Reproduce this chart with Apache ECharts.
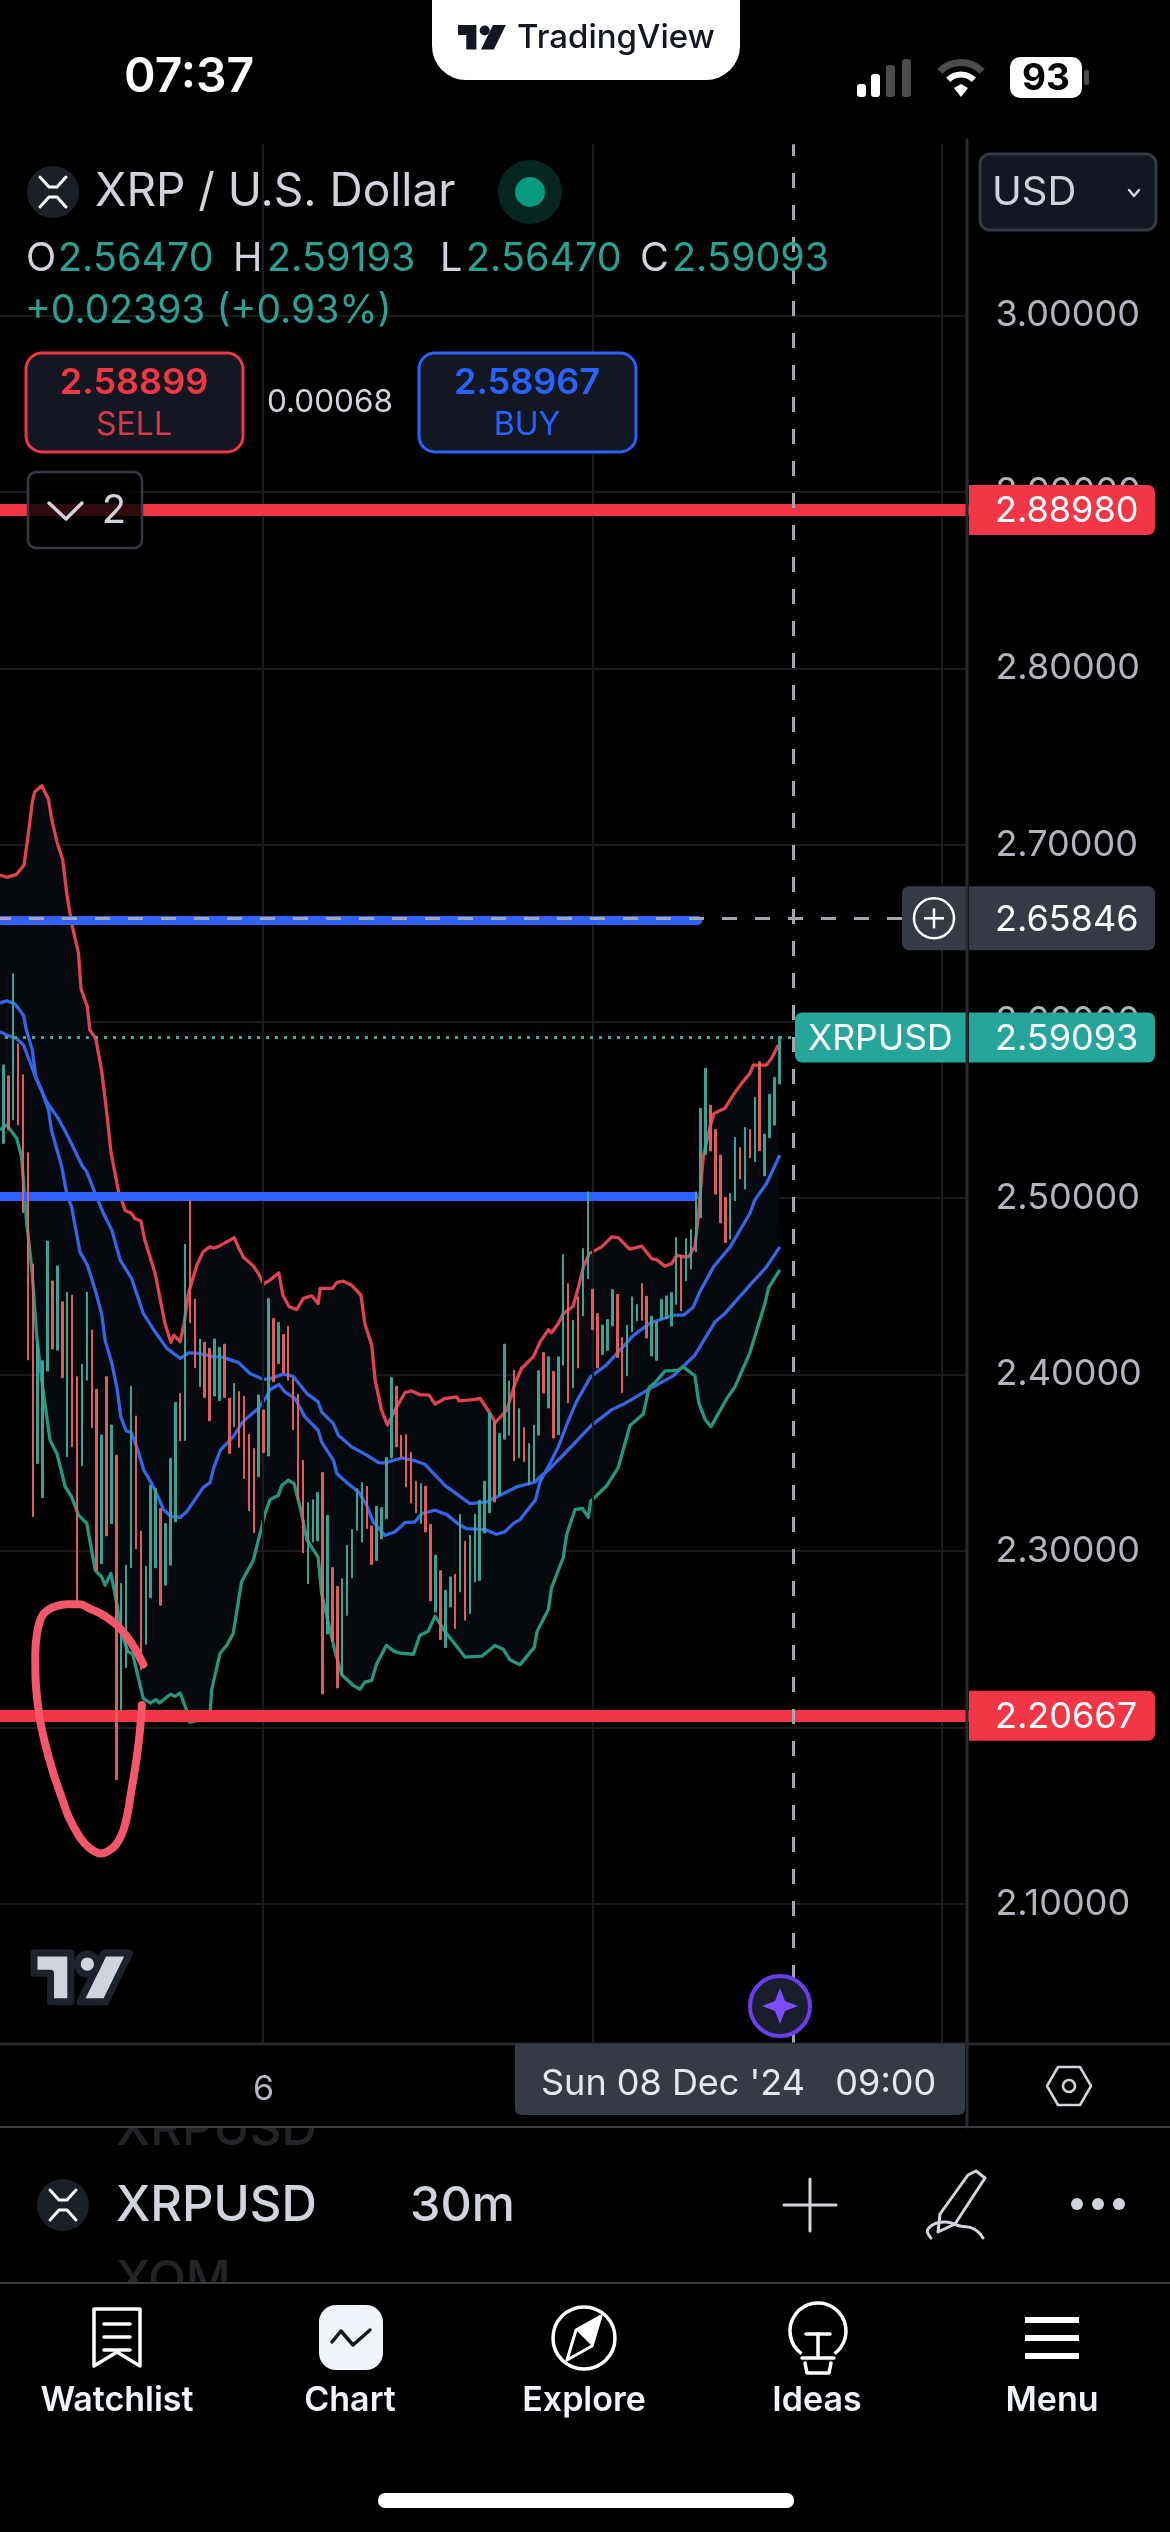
<!DOCTYPE html>
<html>
<head>
<meta charset="utf-8">
<title>XRPUSD</title>
<script src="https://cdn.jsdelivr.net/npm/echarts@6/dist/echarts.min.js"></script>
<style>
html, body { margin: 0; padding: 0; background: #000; }
#main { width: 1170px; height: 2532px; }
</style>
</head>
<body>
<div id="main"></div>
<script>
// price axis
var priceTicks = [2.1, 2.2, 2.3, 2.4, 2.5, 2.6, 2.7, 2.8, 2.9, 3.0];
var slotCount = 198;
var timeLabelSlot = 54;
var timeLabelText = '6';

// candles, first one sits in slot 1. up: 1 teal, 0 red
var candleHigh = [
  2.5754,2.5692,2.6270,2.5873,2.5698,2.5257,2.4626,2.4172,2.4078,2.4756,2.4530,2.4615,2.4412,2.4467,2.4450,2.3987,2.4059,2.4467,2.4252,2.3915,
  2.3657,2.3987,2.3714,2.3543,2.2816,2.2920,2.3934,2.3765,2.3113,2.2914,2.3373,2.3354,2.3241,2.3156,2.3525,2.3842,2.3893,2.4739,2.4985,2.4428,
  2.4201,2.4182,2.4148,2.4201,2.4154,2.4172,2.3865,2.3949,2.3903,2.3878,2.3661,2.3581,2.3884,2.3799,2.4431,2.4317,2.4295,2.4227,2.4274,2.3977,
  2.3888,2.3514,2.3274,2.3291,2.3331,2.3444,2.3202,2.2906,2.2800,2.2843,2.3032,2.3121,2.3354,2.3388,2.3367,2.3142,2.3253,2.3246,2.3529,2.3983,
  2.3934,2.3656,2.3660,2.3558,2.3395,2.3382,2.3367,2.3151,2.2976,2.2888,2.2778,2.2853,2.2868,2.3208,2.3055,2.3089,2.3208,2.3287,2.3395,2.3783,
  2.3732,2.3665,2.4172,2.3962,2.4024,2.3807,2.3699,2.3609,2.3713,2.4021,2.4124,2.4100,2.4018,2.4100,2.4680,2.4515,2.4307,2.4440,2.4714,2.5035,
  2.4483,2.4345,2.4279,2.4311,2.4481,2.4453,2.4209,2.4279,2.4440,2.4396,2.4515,2.4443,2.4330,2.4298,2.4426,2.4445,2.4464,2.4776,2.4676,2.4770,
  2.4822,2.5035,2.5508,2.5734,2.5526,2.5388,2.5243,2.5003,2.5026,2.5343,2.5286,2.5400,2.5388,2.5570,2.5772,2.5362,2.5587,2.5683,2.5914
];
var candleLow = [
  2.5310,2.5386,2.5443,2.5414,2.4917,2.4082,2.3194,2.3496,2.3303,2.4019,2.4144,2.4138,2.3982,2.3534,2.3591,2.2712,2.3483,2.3968,2.3698,2.2891,
  2.2929,2.3086,2.3156,2.1704,2.2098,2.2340,2.2905,2.3012,2.2328,2.2472,2.2735,2.2905,2.2693,2.2806,2.2920,2.3165,2.3623,2.3625,2.4293,2.4038,
  2.3931,2.3870,2.3738,2.3878,2.3852,2.3870,2.3553,2.3704,2.3587,2.3411,2.3228,2.3103,2.3421,2.3557,2.3538,2.3958,2.4062,2.4009,2.3968,2.3688,
  2.3287,2.2989,2.2815,2.3051,2.3057,2.2190,2.2530,2.2490,2.2224,2.2292,2.2635,2.2847,2.3117,2.3051,2.3127,2.2923,2.2947,2.3070,2.3183,2.3527,
  2.3590,2.3529,2.3363,2.3272,2.3216,2.3155,2.3108,2.2717,2.2654,2.2498,2.2453,2.2683,2.2560,2.2768,2.2607,2.2645,2.2824,2.2834,2.3102,2.3216,
  2.3278,2.3316,2.3633,2.3656,2.3510,2.3529,2.3505,2.3376,2.3395,2.3656,2.3895,2.3810,2.3640,2.3659,2.4052,2.3839,2.3924,2.4037,2.4332,2.4544,
  2.4254,2.4037,2.4113,2.4137,2.4275,2.4096,2.3897,2.3992,2.4241,2.4304,2.4307,2.4207,2.4105,2.4081,2.4311,2.4317,2.4275,2.4398,2.4360,2.4530,
  2.4597,2.4695,2.4888,2.5247,2.5266,2.5022,2.4859,2.4748,2.4767,2.4984,2.5107,2.5050,2.5228,2.5205,2.5268,2.5126,2.5341,2.5413,2.5646
];
var candleUp = [
  1,0,1,0,0,0,0,1,1,1,0,1,0,1,0,0,1,1,0,0,
  1,0,1,0,1,1,1,0,0,1,1,1,0,1,1,1,0,1,0,0,
  1,0,0,1,1,0,0,1,0,0,0,0,1,0,1,0,1,0,0,0,
  0,0,1,1,1,0,1,0,0,1,1,1,1,1,0,0,1,1,1,1,
  0,0,0,0,0,1,0,0,1,0,1,1,0,1,0,1,1,1,1,1,
  0,1,1,1,0,1,0,1,1,1,0,1,0,1,1,0,1,0,1,1,
  0,0,1,1,1,0,0,1,1,1,0,0,1,1,1,1,1,1,0,1,
  1,1,1,1,0,0,0,0,1,1,0,1,0,1,0,1,1,1,1
];

// indicator lines, [slot, price]
var upperBand = [
  [0.3,2.6830],[1.7,2.6817],[3.7,2.6834],[5.2,2.6887],[6.1,2.7066],[6.9,2.7246],[7.4,2.7302],[8.8,2.7335],[10.2,2.7259],[10.8,2.7151],
  [11.9,2.7019],[13.1,2.6915],[13.9,2.6726],[14.9,2.6556],[16.3,2.6386],[16.8,2.6187],[18.1,2.6083],[18.6,2.5951],[19.8,2.5904],[21.0,2.5724],
  [22.0,2.5497],[22.9,2.5261],[24.4,2.5044],[25.8,2.4930],[27.1,2.4912],[27.8,2.4883],[29.0,2.4870],[29.8,2.4762],[31.9,2.4573],[33.9,2.4290],
  [35.1,2.4182],[35.7,2.4223],[37.0,2.4186],[37.8,2.4290],[38.7,2.4460],[40.4,2.4620],[41.7,2.4696],[43.1,2.4724],[43.8,2.4715],[45.1,2.4730],
  [48.0,2.4775],[48.8,2.4724],[49.9,2.4664],[51.9,2.4615],[52.9,2.4573],[54.0,2.4513],[55.3,2.4535],[57.1,2.4576],[57.9,2.4450],[59.2,2.4384],
  [60.7,2.4368],[62.1,2.4431],[63.8,2.4446],[65.1,2.4402],[65.5,2.4488],[68.0,2.4488],[68.9,2.4522],[70.2,2.4529],[71.9,2.4506],[73.8,2.4450],
  [74.6,2.4289],[76.0,2.4166],[76.7,2.3968],[78.0,2.3798],[79.2,2.3713],[80.7,2.3798],[82.8,2.3898],[84.1,2.3907],[85.8,2.3886],[87.7,2.3883],
  [88.9,2.3832],[90.9,2.3864],[93.3,2.3873],[93.8,2.3851],[96.7,2.3858],[98.1,2.3864],[100.1,2.3779],[101.2,2.3728],[103.5,2.3798],[105.2,2.3949],
  [106.5,2.4034],[108.9,2.4100],[110.3,2.4185],[112.0,2.4254],[112.6,2.4236],[114.0,2.4289],[115.0,2.4345],[117.0,2.4387],[118.1,2.4496],[119.1,2.4610],
  [120.3,2.4685],[122.8,2.4723],[124.9,2.4780],[126.2,2.4776],[128.5,2.4710],[131.0,2.4727],[133.0,2.4657],[134.0,2.4651],[135.7,2.4614],[137.1,2.4629],
  [138.1,2.4676],[139.5,2.4667],[140.5,2.4667],[141.8,2.4723],[142.5,2.4893],[143.5,2.5233],[144.9,2.5404],[145.7,2.5479],[147.9,2.5508],[149.6,2.5583],
  [151.3,2.5649],[153.0,2.5706],[153.7,2.5753],[156.4,2.5753],[157.4,2.5791],[158.8,2.5867]
];
var fastLine = [
  [0.3,2.6106],[1.7,2.6117],[3.4,2.6099],[5.1,2.6036],[5.7,2.5951],[6.9,2.5838],[7.6,2.5686],[8.8,2.5611],[10.2,2.5498],[10.8,2.5384],
  [12.9,2.5176],[13.9,2.5025],[14.9,2.4949],[16.6,2.4695],[18.1,2.4620],[19.7,2.4479],[21.0,2.4346],[21.7,2.4195],[23.1,2.4063],[24.2,2.3912],
  [24.9,2.3761],[26.0,2.3681],[27.1,2.3670],[28.5,2.3562],[29.6,2.3458],[31.2,2.3383],[32.8,2.3288],[33.6,2.3235],[35.0,2.3198],[37.0,2.3190],
  [38.3,2.3222],[40.4,2.3307],[41.7,2.3360],[43.1,2.3387],[43.8,2.3468],[45.2,2.3572],[46.5,2.3610],[47.8,2.3647],[49.5,2.3723],[50.9,2.3761],
  [52.9,2.3808],[54.6,2.3874],[55.3,2.3915],[57.1,2.3943],[58.3,2.3902],[60.4,2.3864],[62.4,2.3760],[65.1,2.3684],[65.8,2.3618],[68.2,2.3514],
  [68.9,2.3439],[70.9,2.3388],[73.3,2.3335],[75.0,2.3259],[76.3,2.3165],[78.7,2.3089],[80.7,2.3108],[82.8,2.3161],[84.8,2.3165],[86.2,2.3212],
  [88.9,2.3231],[91.3,2.3206],[94.0,2.3146],[95.3,2.3127],[99.1,2.3121],[101.4,2.3095],[103.1,2.3108],[104.8,2.3155],[106.2,2.3178],[109.3,2.3287],
  [110.3,2.3392],[112.3,2.3496],[114.0,2.3591],[115.7,2.3714],[117.7,2.3846],[120.6,2.3988],[123.8,2.4054],[126.5,2.4137],[129.3,2.4222],[132.7,2.4292],
  [137.4,2.4336],[139.5,2.4336],[141.5,2.4383],[142.8,2.4468],[145.6,2.4610],[147.3,2.4667],[149.0,2.4723],[151.0,2.4818],[153.0,2.4912],[154.0,2.4988],
  [156.4,2.5082],[159.1,2.5243]
];
var slowLine = [
  [0.3,2.5942],[1.7,2.5923],[3.7,2.5904],[5.1,2.5866],[6.4,2.5772],[7.8,2.5668],[9.8,2.5545],[12.2,2.5450],[14.2,2.5346],[17.0,2.5186],
  [18.0,2.5148],[19.7,2.5025],[21.4,2.4912],[23.1,2.4817],[24.8,2.4648],[27.1,2.4545],[29.5,2.4346],[31.9,2.4242],[34.3,2.4148],[37.0,2.4091],
  [38.7,2.4123],[40.7,2.4120],[43.8,2.4101],[45.8,2.4097],[48.9,2.4067],[51.2,2.4006],[54.0,2.3972],[55.3,2.3977],[58.0,2.4002],[60.0,2.3990],
  [62.8,2.3892],[65.1,2.3845],[65.8,2.3788],[68.2,2.3722],[69.2,2.3656],[71.9,2.3590],[75.0,2.3543],[77.4,2.3501],[78.7,2.3499],[82.1,2.3527],
  [84.5,2.3514],[86.9,2.3490],[90.9,2.3372],[96.0,2.3268],[99.4,2.3278],[102.8,2.3325],[105.5,2.3363],[109.3,2.3391],[110.3,2.3420],[112.3,2.3468],
  [115.0,2.3544],[120.8,2.3713],[124.9,2.3801],[127.2,2.3831],[132.7,2.3920],[137.4,2.3992],[141.8,2.4109],[145.9,2.4298],[147.9,2.4345],[153.0,2.4506],
  [156.4,2.4610],[159.1,2.4723]
];
var lowerBand = [
  [0.3,2.5386],[1.7,2.5414],[3.7,2.5339],[4.7,2.5235],[5.7,2.4876],[6.8,2.4592],[7.8,2.4214],[8.8,2.3970],[10.5,2.3628],[11.9,2.3553],
  [13.6,2.3364],[14.9,2.3307],[16.3,2.3203],[18.0,2.3156],[19.7,2.2891],[21.0,2.2854],[21.7,2.2806],[22.9,2.2872],[24.1,2.2702],[25.1,2.2532],
  [26.4,2.2428],[27.3,2.2419],[29.5,2.2164],[30.9,2.2139],[32.1,2.2158],[32.8,2.2139],[35.0,2.2188],[36.0,2.2177],[37.0,2.2196],[38.3,2.2098],
  [38.9,2.2031],[41.0,2.2041],[43.0,2.2041],[43.4,2.2211],[45.1,2.2419],[46.5,2.2466],[47.8,2.2532],[49.5,2.2825],[51.9,2.2948],[54.3,2.3213],
  [55.3,2.3291],[57.0,2.3316],[57.7,2.3372],[59.0,2.3401],[60.2,2.3382],[61.4,2.3250],[62.8,2.3065],[65.1,2.2964],[65.8,2.2760],[68.5,2.2434],
  [69.9,2.2299],[72.3,2.2237],[73.6,2.2217],[74.6,2.2257],[76.0,2.2267],[77.0,2.2360],[79.0,2.2466],[80.4,2.2434],[81.8,2.2421],[84.5,2.2415],
  [85.8,2.2523],[87.5,2.2545],[88.9,2.2631],[90.9,2.2545],[95.0,2.2399],[98.4,2.2404],[101.1,2.2465],[102.8,2.2443],[104.2,2.2382],[106.2,2.2356],
  [109.1,2.2454],[109.7,2.2545],[112.0,2.2670],[112.6,2.2790],[115.0,2.2963],[115.7,2.3093],[117.4,2.3234],[118.9,2.3241],[120.1,2.3191],[120.6,2.3282],
  [123.8,2.3368],[126.2,2.3473],[128.6,2.3711],[131.3,2.3776],[132.5,2.3928],[133.7,2.3954],[135.7,2.4019],[138.4,2.4025],[139.4,2.4043],[141.8,2.3993],
  [142.6,2.3841],[143.9,2.3744],[145.1,2.3705],[148.3,2.3863],[150.0,2.3932],[153.0,2.4123],[156.1,2.4405],[156.8,2.4491],[159.1,2.4593]
];
// the hand drawn loop round the wick
var handLoop = [
  [29.5,2.2358],[27.8,2.2447],[26.1,2.2517],[24.1,2.2580],[21.4,2.2636],[18.6,2.2674],[16.6,2.2699],[13.9,2.2699],[11.9,2.2689],[10.2,2.2668],
  [8.8,2.2627],[7.9,2.2542],[7.5,2.2419],[7.6,2.2249],[8.3,2.2069],[9.5,2.1909],[11.2,2.1739],[13.2,2.1578],[14.2,2.1500],[16.6,2.1377],
  [18.6,2.1316],[20.9,2.1286],[23.9,2.1335],[25.8,2.1451],[27.1,2.1648],[28.1,2.1819],[28.8,2.1979],[29.2,2.2127]
];

// horizontal drawings
var levelPrices = [2.8898, 2.20667, 2.6573, 2.5008];
var levelEndSlots = [197, 197, 142.4, 141.6];
var levelColors = ['#f23645', '#f23645', '#2f62ff', '#2f62ff'];
var dayLineSlots = [53.87, 121.06, 192.12];
var crossSlot = 161.85;
var crossPrice = 2.65846;
var crossEndSlot = 184.5;
var lastPrice = 2.59093;
var lastEndSlot = 162.4;

var tagPrices = [2.8898, 2.20667, 2.65846, 2.59093];
var tagTexts = ['2.88980', '2.20667', '2.65846', '2.59093'];
var tagColors = ['#f23645', '#f23645', '#363a45', '#26a69a'];

var ohlcLabels = ['O', 'H', 'L', 'C'];
var ohlcValues = ['2.56470', '2.59193', '2.56470', '2.59093'];
var tabLabels = ['Watchlist', 'Chart', 'Explore', 'Ideas', 'Menu'];

var FONT = 'Inter, "Noto Sans", sans-serif';
var TEXT = '#d1d4dc';
var TEAL = '#2ba193';

var timeSlots = [];
for (var i = 0; i < slotCount; i++) timeSlots.push(i === timeLabelSlot ? timeLabelText : '');

var candleData = [['-', '-', '-', '-']];
for (var c = 0; c < candleHigh.length; c++) {
  if (candleUp[c]) candleData.push([candleLow[c], candleHigh[c], candleLow[c], candleHigh[c]]);
  else candleData.push([candleHigh[c], candleLow[c], candleLow[c], candleHigh[c]]);
}

// ---- chrome helpers
function txt(s, x, y, size, color, opt) {
  opt = opt || {};
  return {
    type: 'text', z: opt.z || 100, silent: true,
    style: {
      text: s, x: x, y: y + 2.5, fill: color,
      font: (opt.weight || 400) + ' ' + size + 'px ' + FONT,
      align: opt.align || 'left', textAlign: opt.align || 'left',
      verticalAlign: 'middle', textVerticalAlign: 'middle'
    }
  };
}
function box(x, y, w, h, r, fill, stroke, lw, z) {
  return {
    type: 'rect', z: z || 100, silent: true,
    shape: { x: x, y: y, width: w, height: h, r: r },
    style: { fill: fill, stroke: stroke || null, lineWidth: lw || 0 }
  };
}
function seg(x1, y1, x2, y2, color, lw, z) {
  return {
    type: 'line', z: z || 100, silent: true,
    shape: { x1: x1, y1: y1, x2: x2, y2: y2 },
    style: { stroke: color, lineWidth: lw, lineCap: 'round' }
  };
}
function pline(points, color, lw, smooth) {
  return {
    type: 'polyline', z: 100, silent: true,
    shape: { points: points, smooth: smooth || 0 },
    style: { stroke: color, lineWidth: lw, fill: null, lineCap: 'round', lineJoin: 'round' }
  };
}
function pgon(points, fill, stroke, lw) {
  return {
    type: 'polygon', z: 100, silent: true,
    shape: { points: points },
    style: { fill: fill, stroke: stroke || null, lineWidth: lw || 0, lineJoin: 'round' }
  };
}
function dot(x, y, r, fill, stroke, lw) {
  return {
    type: 'circle', z: 100, silent: true,
    shape: { cx: x, cy: y, r: r },
    style: { fill: fill, stroke: stroke || null, lineWidth: lw || 0 }
  };
}
function xrpIcon(x, y, r) {
  return [
    dot(x, y, r, '#1b1f26'),
    pline([[x - 13, y - 15], [x - 4, y - 5], [x + 4, y - 5], [x + 13, y - 15]], '#fff', 3),
    pline([[x - 13, y + 15], [x - 4, y + 5], [x + 4, y + 5], [x + 13, y + 15]], '#fff', 3)
  ];
}
function tvLogo(x, y, k, fill, stroke, lw) {
  function p(a) {
    return a.map(function (q) { return [x + q[0] * k, y + q[1] * k]; });
  }
  var out = [];
  [[[0, 0], [40, 0], [40, 53], [18, 53], [18, 22], [0, 22]],
   [[76, 0], [104, 0], [78, 53], [50, 53]]].forEach(function (a) {
    out.push(pgon(p(a), fill, stroke, lw));
  });
  out.push(dot(x + 58 * k, y + 12 * k, 11 * k, fill, stroke, lw));
  return out;
}

var chrome = [];
function add(a) { chrome = chrome.concat(a); }

// notch + status bar
add([
  box(432, -40, 308, 120, 34, '#fff'),
  txt('TradingView', 517, 36, 33, '#131722', { weight: 500 }),
  txt('07:37', 124, 75, 48, '#fff', { weight: 600 }),
  box(857, 84, 9, 13, 3, '#fff'),
  box(871, 74, 9, 23, 3, '#fff'),
  box(886, 65, 9, 32, 3, '#4c4c4e'),
  box(902, 59, 9, 38, 3, '#4c4c4e'),
  { type: 'arc', z: 100, shape: { cx: 961, cy: 92.5, r: 30, startAngle: -2.36, endAngle: -0.78 }, style: { stroke: '#4c4c4e', lineWidth: 7, fill: null } },
  { type: 'arc', z: 100, shape: { cx: 961, cy: 92.5, r: 18, startAngle: -2.36, endAngle: -0.78 }, style: { stroke: '#fff', lineWidth: 6, fill: null } },
  pgon([[961, 97], [954, 88], [961, 84], [968, 88]], '#fff'),
  box(1010, 57, 72, 41, 10, '#fff'),
  box(1084, 70, 5, 15, 2, '#4c4c4e'),
  txt('93', 1046, 76, 37, '#000', { weight: 700, align: 'center' })
]);
add(tvLogo(458, 25, 0.46, '#131722'));

// header
add(xrpIcon(53, 192, 26));
add([
  txt('XRP / U.S. Dollar', 95, 190, 46, TEXT),
  dot(530, 192, 32, '#07261f'),
  dot(530, 192, 15, '#089981'),
  box(980, 154, 176, 76, 10, '#131722', '#363a45', 3),
  txt('USD', 992, 190, 40, TEXT),
  pline([[1129, 190], [1134, 196], [1139, 190]], TEXT, 2.5)
]);
var ohlcLabelX = [26, 233, 440, 640];
var ohlcValueX = [58, 267, 466, 672];
ohlcLabels.forEach(function (l, n) {
  add([txt(l, ohlcLabelX[n], 257, 39.5, TEXT), txt(ohlcValues[n], ohlcValueX[n], 257, 39.5, TEAL)]);
});
add([
  txt('+0.02393 (+0.93%)', 25, 309, 39, TEAL),
  box(26, 353, 217, 99, 16, '#131722', '#f23645', 3),
  txt('2.58899', 134, 381, 36, '#f23645', { weight: 600, align: 'center' }),
  txt('SELL', 134, 423, 32, '#d63a4a', { align: 'center' }),
  txt('0.00068', 330, 400, 31.5, TEXT, { align: 'center' }),
  box(419, 353, 217, 99, 16, '#131722', '#2962ff', 3),
  txt('2.58967', 527, 381, 36, '#2962ff', { weight: 600, align: 'center' }),
  txt('BUY', 527, 423, 32, '#2962ff', { align: 'center' }),
  box(28, 472, 114, 76, 8, 'rgba(0,0,0,0.8)', '#363a45', 2.5),
  pline([[49, 503], [66, 519], [82, 503]], TEXT, 3.5),
  txt('2', 114, 508, 40, TEXT, { align: 'center' })
]);

// axis frame
add([
  seg(967, 140, 967, 2127, '#2a2b30', 3, 95),
  seg(0, 2044, 1170, 2044, '#2a2b30', 3, 95),
  seg(0, 2127, 1170, 2127, '#3a3b40', 2, 95),
  seg(0, 2283, 1170, 2283, '#3a3b40', 2, 95),
  { type: 'rect', z: 100, silent: true, shape: { x: 515, y: 2044, width: 450, height: 71, r: [0, 0, 6, 6] }, style: { fill: '#363a45' } },
  txt("Sun 08 Dec '24   09:00", 541, 2082, 36, '#e6e8ee'),
  pgon([[1047, 2086], [1058, 2067], [1080, 2067], [1091, 2086], [1080, 2105], [1058, 2105]], null, TEXT, 2.5),
  dot(1069, 2086, 6, null, TEXT, 2.5)
]);
add(tvLogo(34, 1953, 0.92, TEXT, '#1e222d', 7));
add([
  dot(780, 2006, 30, '#1a1d2b', '#6a3df0', 4),
  pgon([[780, 1988], [785, 2001], [798, 2006], [785, 2011], [780, 2024], [775, 2011], [762, 2006], [775, 2001]], '#7b4dff')
]);

// symbol strip with ghost rows
add([
  txt('XRPUSD', 116, 2127.5, 49, '#242428', { z: 90, weight: 500 }),
  box(100, 2104, 240, 23, 0, '#000', null, 0, 91),
  txt('XOM', 116, 2278.5, 49, '#242428', { z: 90, weight: 500 }),
  box(100, 2284, 240, 40, 0, '#000', null, 0, 91)
]);
add(xrpIcon(63, 2205, 26));
add([
  txt('XRPUSD', 116, 2204, 49, TEXT, { weight: 500 }),
  txt('30m', 410, 2204, 48.5, TEXT, { weight: 500 }),
  seg(784, 2205, 836, 2205, TEXT, 3),
  seg(810, 2179, 810, 2231, TEXT, 3),
  pgon([[968, 2175], [976, 2171], [985, 2178], [955, 2224], [938, 2232], [940, 2214]], null, TEXT, 3),
  pline([[931, 2238], [928, 2229], [944, 2222], [960, 2226], [974, 2229], [983, 2238]], TEXT, 3, 0.5),
  dot(1077, 2204, 6, TEXT),
  dot(1098, 2204, 6, TEXT),
  dot(1119, 2204, 6, TEXT)
]);

// tab bar
var tabX = [117, 350, 584, 817, 1052];
tabLabels.forEach(function (l, n) {
  add([txt(l, tabX[n], 2398.5, 34, '#f0f3fa', { weight: 600, align: 'center' })]);
});
add([
  pgon([[94, 2309], [140, 2309], [140, 2366], [117, 2352], [94, 2366]], null, '#fff', 3.5),
  seg(104, 2324, 130, 2324, '#fff', 3.5), seg(104, 2337, 130, 2337, '#fff', 3.5), seg(104, 2350, 130, 2350, '#fff', 3.5),
  box(319, 2305, 64, 65, 17, '#f0f3fa'),
  pline([[332, 2342], [341, 2331], [353, 2345], [370, 2330]], '#131722', 3.5),
  dot(584, 2338, 31, null, '#fff', 3.5),
  pgon([[601, 2316], [592, 2346], [567, 2360], [576, 2330]], null, '#fff', 3),
  pgon([[601, 2316], [592, 2346], [576, 2330]], '#fff'),
  { type: 'arc', z: 100, shape: { cx: 818, cy: 2331, r: 28, startAngle: 2.2, endAngle: 0.94 }, style: { stroke: '#fff', lineWidth: 3.5, fill: null } },
  seg(806, 2334, 830, 2334, '#fff', 3.5), seg(818, 2334, 818, 2356, '#fff', 3.5),
  seg(802, 2358, 834, 2358, '#fff', 3.5),
  pline([[805, 2363], [807, 2373], [829, 2373], [831, 2363]], '#fff', 3.5),
  box(1025, 2317, 54, 6, 0, '#fff'),
  box(1025, 2335, 54, 6, 0, '#fff'),
  box(1025, 2353, 54, 6, 0, '#fff'),
  box(378, 2493, 416, 15, 7, '#fff')
]);

// ---- chart
function levelLines() {
  var out = [];
  levelPrices.forEach(function (p, n) {
    out.push([
      { coord: [-0.5, p], lineStyle: { color: levelColors[n], width: n < 2 ? 12 : 9, type: 'solid', cap: 'round', opacity: 1 } },
      { coord: [levelEndSlots[n], p] }
    ]);
  });
  return out;
}
function dayLines() {
  return dayLineSlots.map(function (s) {
    return [
      { coord: [s, 2.0207], lineStyle: { color: '#1a1b1f', width: 2, type: 'solid', opacity: 1 } },
      { coord: [s, 3.097] }
    ];
  });
}

function drawFill(params, api) {
  var pts = upperBand.concat(lowerBand.slice().reverse()).map(function (q) { return api.coord(q); });
  return { type: 'polygon', shape: { points: pts }, style: { fill: '#05080c' } };
}
function drawTag(params, api) {
  var n = params.dataIndex;
  var y = api.coord([0, tagPrices[n]])[1];
  var half = n === 2 ? 32 : 25;
  var kids = [
    { type: 'rect', shape: { x: 969, y: y - half, width: 186, height: half * 2, r: [0, 7, 7, 0] }, style: { fill: tagColors[n] } },
    { type: 'text', style: { text: tagTexts[n], x: 995, y: y + 1.5, fill: '#fff', font: '400 36px ' + FONT, align: 'left', verticalAlign: 'middle', textVerticalAlign: 'middle' } }
  ];
  if (n === 2) {
    kids.push({ type: 'rect', shape: { x: 902, y: y - half, width: 64, height: half * 2, r: [7, 0, 0, 7] }, style: { fill: tagColors[n] } });
    kids.push({ type: 'circle', shape: { cx: 934, cy: y, r: 20 }, style: { fill: null, stroke: '#fff', lineWidth: 2.5 } });
    kids.push({ type: 'line', shape: { x1: 924, y1: y, x2: 944, y2: y }, style: { stroke: '#fff', lineWidth: 2.5 } });
    kids.push({ type: 'line', shape: { x1: 934, y1: y - 10, x2: 934, y2: y + 10 }, style: { stroke: '#fff', lineWidth: 2.5 } });
  }
  if (n === 3) {
    kids.push({ type: 'rect', shape: { x: 795, y: y - 25, width: 171, height: 50, r: [7, 0, 0, 7] }, style: { fill: tagColors[n] } });
    kids.push({ type: 'text', style: { text: 'XRPUSD', x: 808, y: y + 1.5, fill: '#fff', font: '400 35.5px ' + FONT, align: 'left', verticalAlign: 'middle', textVerticalAlign: 'middle' } });
  }
  return { type: 'group', children: kids };
}
function bandLine(name, data, color) {
  return {
    name: name, type: 'line', xAxisIndex: 1, yAxisIndex: 0, data: data, z: 4,
    showSymbol: false, symbol: 'none', silent: true,
    lineStyle: { color: color, width: 3.3, join: 'round' }
  };
}

var option = {
  backgroundColor: '#000',
  animation: false,
  graphic: { elements: chrome },
  // outerBoundsMode none, otherwise v6 pulls the negative left back to 0
  grid: { left: -4, top: 139, width: 972.4, height: 1941.5, containLabel: false, outerBoundsMode: 'none' },
  xAxis: [
    {
      type: 'category', data: timeSlots, position: 'bottom',
      axisLine: { show: false }, axisTick: { show: false }, splitLine: { show: false },
      axisLabel: {
        interval: 0, margin: -8, color: '#b2b5be', fontSize: 34, fontFamily: FONT, hideOverlap: false
      }
    },
    { type: 'value', min: -0.5, max: slotCount - 0.5, show: false, splitLine: { show: false } }
  ],
  yAxis: {
    type: 'value', position: 'right', min: 2, max: 3.1, interval: 0.1,
    axisLine: { show: false }, axisTick: { show: false },
    splitLine: { showMinLine: false, showMaxLine: false, lineStyle: { color: '#1a1b1f', width: 2 } },
    axisLabel: {
      margin: 27, color: '#b2b5be', fontSize: 36, fontFamily: FONT, align: 'left', padding: [3, 0, 0, 0],
      showMinLabel: false, showMaxLabel: false,
      formatter: function (v) {
        return priceTicks.indexOf(Math.round(v * 10) / 10) < 0 ? '' : v.toFixed(5);
      }
    }
  },
  series: [
    {
      name: 'days', type: 'line', xAxisIndex: 1, yAxisIndex: 0, data: [], z: 1, silent: true,
      markLine: { silent: true, symbol: ['none', 'none'], label: { show: false }, data: dayLines() }
    },
    {
      name: 'fill', type: 'custom', xAxisIndex: 1, yAxisIndex: 0, z: 2, silent: true,
      data: [[0, 2.5]], renderItem: drawFill
    },
    {
      name: 'levels', type: 'line', xAxisIndex: 1, yAxisIndex: 0, data: [], z: 3, silent: true,
      markLine: { silent: true, symbol: ['none', 'none'], label: { show: false }, data: levelLines() }
    },
    bandLine('upper', upperBand, '#e0434f'),
    bandLine('fast', fastLine, '#3566e8'),
    bandLine('slow', slowLine, '#3566e8'),
    bandLine('lower', lowerBand, '#26967f'),
    {
      name: 'XRPUSD', type: 'candlestick', xAxisIndex: 0, yAxisIndex: 0, data: candleData, z: 5,
      barWidth: 2, silent: true,
      itemStyle: {
        color: '#3ba89a', color0: '#e5605f', borderColor: '#3ba89a', borderColor0: '#e5605f',
        borderWidth: 1, opacity: 0.95
      }
    },
    {
      name: 'loop', type: 'line', xAxisIndex: 1, yAxisIndex: 0, data: handLoop, z: 6, smooth: 0.3,
      showSymbol: false, symbol: 'none', silent: true,
      lineStyle: { color: '#f4566a', width: 8, cap: 'round', join: 'round' }
    },
    {
      name: 'cross', type: 'line', xAxisIndex: 1, yAxisIndex: 0, data: [], z: 7, silent: true,
      markLine: {
        silent: true, symbol: ['none', 'none'], label: { show: false },
        data: [
          [{ coord: [crossSlot, 2.0207], lineStyle: { color: '#a3a6af', width: 3, type: [15, 17], opacity: 1 } }, { coord: [crossSlot, 3.097] }],
          [{ coord: [-0.5, crossPrice], lineStyle: { color: '#a3a6af', width: 3, type: [15, 18], opacity: 1 } }, { coord: [crossEndSlot, crossPrice] }],
          [{ coord: [-0.5, lastPrice], lineStyle: { color: '#3ba89a', width: 3, type: [3, 6], opacity: 1 } }, { coord: [lastEndSlot, lastPrice] }]
        ]
      }
    },
    {
      name: 'tags', type: 'custom', xAxisIndex: 1, yAxisIndex: 0, z: 8, silent: true,
      data: tagPrices.map(function (p) { return [0, p]; }), renderItem: drawTag
    }
  ]
};

var chart = echarts.init(document.getElementById('main'), null, { renderer: 'canvas' });
chart.setOption(option);
</script>
</body>
</html>
